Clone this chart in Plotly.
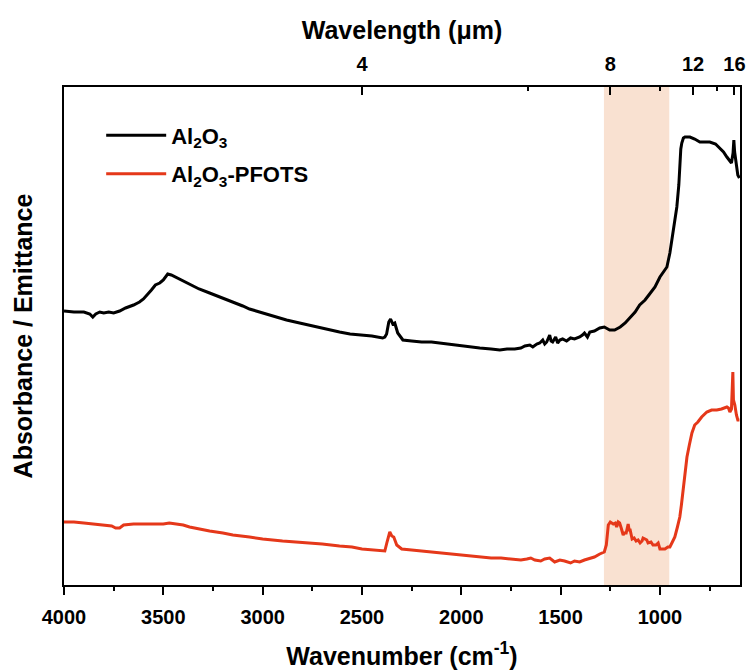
import plotly.graph_objects as go

# ---- data (wavenumber in cm^-1, absorbance in arbitrary units) ----
al2o3_wn = [4000, 3950, 3900, 3870, 3855, 3840, 3820, 3800, 3775, 3750, 3720, 3690, 3650,
            3620, 3600, 3580, 3560, 3540, 3518, 3500, 3490, 3478, 3460, 3440, 3400, 3368,
            3320, 3267, 3200, 3150, 3100, 3066, 3000, 2950, 2880, 2814, 2750, 2700, 2650,
            2613, 2560, 2500, 2450, 2396, 2385, 2376, 2365, 2356, 2345, 2335, 2320, 2305,
            2294, 2250, 2200, 2150, 2108, 2050, 2000, 1950, 1907, 1850, 1806, 1770, 1731,
            1700, 1680, 1655, 1640, 1620, 1605, 1590, 1580, 1570, 1555, 1548, 1540, 1525,
            1515, 1504, 1490, 1470, 1450, 1430, 1404, 1390, 1380, 1365, 1353, 1330, 1303,
            1280, 1265, 1253, 1228, 1200, 1175, 1150, 1125, 1102, 1075, 1052, 1025, 1000,
            980, 965, 950, 935, 915, 905, 900, 895, 890, 882, 874, 860, 849, 825, 799, 775,
            749, 720, 698, 680, 663, 650, 640, 632, 628, 624, 618, 612, 608, 600]
al2o3_abs = [274, 273, 273, 271, 268, 271, 273, 272, 273, 272, 274, 277, 280,
             283, 286, 290, 295, 300, 302, 305, 308, 311, 310, 308, 304, 300,
             296, 292, 287, 283, 279, 276, 272, 269, 265, 262, 259, 257, 255,
             253, 251, 250, 249, 247, 248, 251, 263, 266, 261, 262, 252, 248,
             245, 244, 243, 243, 242, 240, 239, 238, 237, 236, 235, 236, 236,
             237, 239, 240, 238, 241, 242, 245, 241, 243, 250, 244, 243, 248,
             242, 245, 246, 244, 247, 246, 248, 250, 252, 248, 253, 254, 257,
             258, 256, 255, 255, 258, 262, 267, 273, 280, 285, 291, 298, 308,
             314, 318, 332, 352, 378, 400, 422, 436, 442, 447, 448, 448, 448, 446, 443, 443,
             443, 441, 437, 433, 428, 425, 422, 432, 445, 433, 425, 418, 410, 407]

pfots_wn = [4000, 3950, 3900, 3850, 3800, 3760, 3740, 3720, 3700, 3650, 3600, 3550, 3500,
            3470, 3430, 3400, 3368, 3320, 3267, 3200, 3150, 3066, 3000, 2900, 2814, 2700,
            2613, 2550, 2500, 2450, 2410, 2385, 2375, 2365, 2360, 2350, 2340, 2325, 2300,
            2250, 2200, 2150, 2100, 2050, 2000, 1950, 1900, 1850, 1800, 1750, 1700, 1670,
            1650, 1630, 1600, 1580, 1555, 1530, 1504, 1480, 1450, 1430, 1404, 1380, 1353,
            1330, 1303, 1290, 1280, 1270, 1260, 1250, 1242, 1235, 1225, 1218, 1210, 1203,
            1195, 1185, 1178, 1170, 1160, 1155, 1150, 1140, 1130, 1120, 1110, 1100, 1090,
            1085, 1075, 1066, 1060, 1045, 1035, 1020, 1009, 1000, 990, 975, 960, 950, 940,
            925, 912, 900, 892, 884, 875, 864, 852, 839, 825, 809, 790, 764, 740, 714,
            690, 675, 663, 655, 648, 640, 636, 633, 630, 623, 615, 608, 600]
pfots_abs = [63, 63, 62, 61, 60, 59, 57, 57, 60, 61, 61, 61, 61,
             62, 61, 60, 58, 56, 54, 52, 50, 48, 46, 44, 43, 41,
             39, 38, 36, 35, 34, 34, 42, 50, 53, 49, 48, 40, 36,
             35, 34, 33, 32, 31, 30, 29, 28, 27, 27, 26, 25, 26,
             27, 25, 24, 26, 27, 23, 25, 24, 22, 24, 23, 25, 27,
             28, 31, 32, 33, 40, 60, 63, 62, 61, 62, 58, 63, 62,
             57, 50, 52, 52, 61, 55, 55, 46, 47, 44, 45, 42, 44,
             47, 46, 45, 42, 43, 40, 40, 42, 36, 36, 36, 38, 38, 42,
             48, 58, 68, 80, 95, 112, 128, 140, 152, 160, 163, 168, 173, 175, 175,
             176, 177, 178, 177, 173, 176, 200, 213, 185, 180, 170, 165, 165]

window_wn = [1282, 953]  # shaded atmospheric window, cm^-1

bottom_ticks = [4000, 3500, 3000, 2500, 2000, 1500, 1000]
bottom_minor = [3750, 3250, 2750, 2250, 1750, 1250, 750]
top_labels_um = [4, 8, 12, 16]
top_minor_um = [6, 10, 14]

X_RANGE = [4000, 597]
Y_RANGE = [0, 498]

FONT = "Arial, Liberation Sans, sans-serif"
RED = "#E5381A"

fig = go.Figure()

fig.add_trace(go.Scatter(x=al2o3_wn, y=al2o3_abs, mode="lines",
                         name="Al<sub>2</sub>O<sub>3</sub>", legendgroup="a",
                         line=dict(color="black", width=3)))
fig.add_trace(go.Scatter(x=pfots_wn, y=pfots_abs, mode="lines",
                         name="Al<sub>2</sub>O<sub>3</sub>-PFOTS", legendgroup="b",
                         line=dict(color=RED, width=3)))
# dummy trace to activate top axis
fig.add_trace(go.Scatter(x=[X_RANGE[0]], y=[Y_RANGE[0]], xaxis="x2", mode="markers",
                         marker=dict(opacity=0), showlegend=False, hoverinfo="skip"))

fig.add_vrect(x0=window_wn[0], x1=window_wn[1], fillcolor="#F9E1D1", opacity=1,
              line_width=0, layer="below")

fig.update_layout(
    width=753, height=671,
    margin=dict(l=64, r=13, t=87, b=86),
    plot_bgcolor="white", paper_bgcolor="white",
    font=dict(family=FONT, color="black", size=17),
    showlegend=True,
    legend=dict(x=0.055, y=0.945, xanchor="left", yanchor="top",
                font=dict(size=22, family=FONT, color="black", weight="bold"),
                bgcolor="rgba(0,0,0,0)", tracegroupgap=7, itemwidth=60),
    xaxis=dict(
        range=X_RANGE, showgrid=False, zeroline=False, automargin=False,
        showline=True, linecolor="black", linewidth=2.2,
        tickmode="array", tickvals=bottom_ticks,
        ticktext=[str(v) for v in bottom_ticks],
        ticks="outside", ticklen=8, tickwidth=2, tickcolor="black",
        ticklabelstandoff=5,
        minor=dict(tickmode="array", tickvals=bottom_minor, ticks="outside",
                   ticklen=4, tickwidth=2, tickcolor="black"),
        tickfont=dict(size=20, family=FONT, weight="bold"),
        title=dict(text="Wavenumber (cm<sup>-1</sup>)", standoff=20,
                   font=dict(size=25, family=FONT, weight="bold")),
    ),
    xaxis2=dict(
        range=X_RANGE, overlaying="x", side="top", anchor="y", automargin=False,
        showgrid=False, zeroline=False,
        showline=True, linecolor="black", linewidth=2.2,
        tickmode="array", tickvals=[10000 / v for v in top_labels_um],
        ticktext=[str(v) for v in top_labels_um],
        ticks="inside", ticklen=8, tickwidth=2, tickcolor="black",
        ticklabelstandoff=6,
        minor=dict(tickmode="array", tickvals=[10000 / v for v in top_minor_um],
                   ticks="inside", ticklen=4, tickwidth=2, tickcolor="black"),
        tickfont=dict(size=20, family=FONT, weight="bold"),
        title=dict(text="Wavelength (μm)", standoff=6,
                   font=dict(size=25, family=FONT, weight="bold")),
    ),
    yaxis=dict(
        range=Y_RANGE, showgrid=False, zeroline=False, automargin=False,
        showline=True, linecolor="black", linewidth=2.2, mirror=True,
        showticklabels=False, ticks="",
        title=dict(text="Absorbance / Emittance", standoff=22,
                   font=dict(size=25, family=FONT, weight="bold")),
    ),
)

fig.write_html("out.html")
